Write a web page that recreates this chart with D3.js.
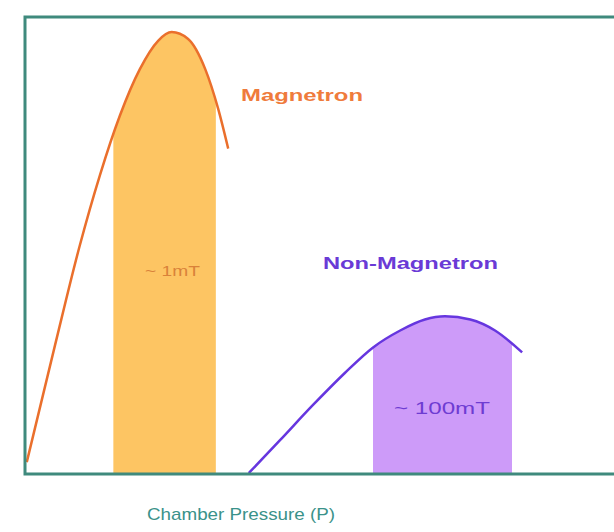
<!DOCTYPE html>
<html>
<head>
<meta charset="utf-8">
<script src="https://cdn.jsdelivr.net/npm/d3@7"></script>
<style>
  body { margin: 0; background: #fff; }
  svg { display: block; font-family: "Liberation Sans", Arial, sans-serif; }
</style>
</head>
<body>
<div id="chart"></div>
<script>
// Curve samples (arbitrary units, x: pressure 0-100, y: rate 0-100)
const magX = [0.3, 5.1, 9.3, 12.7, 16.1, 19.5, 22.6, 24.9, 27.7, 30.6, 32.8, 34.5];
const magY = [2.6, 28.2, 50.0, 65.3, 78.4, 88.6, 94.8, 96.7, 95.2, 88.6, 79.9, 71.2];
const nonX = [38.0, 43.3, 48.9, 54.3, 59.1, 63.7, 67.9, 71.3, 75.6, 79.8, 84.4];
const nonY = [0.2, 7.4, 15.1, 22.1, 27.7, 31.4, 33.8, 34.5, 33.8, 31.4, 26.6];

// Shaded operating windows
const magBand = [15.0, 32.4];
const nonBand = [59.1, 82.7];

const seriesNames = ['Magnetron', 'Non-Magnetron'];
const bandLabels = ['~ 1mT', '~ 100mT'];
const axisTitle = 'Chamber Pressure (P)';

const width = 614, height = 532;
const margin = {top: 17, right: 0, bottom: 58, left: 25};

const svg = d3.select('#chart').append('svg')
    .attr('width', width)
    .attr('height', height);

const x = d3.scaleLinear().domain([0, 100]).range([margin.left, width - margin.right]);
const y = d3.scaleLinear().domain([0, 100]).range([height - margin.bottom, margin.top]);

const series = [
    {name: seriesNames[0], pts: magX.map((v, i) => [v, magY[i]]), band: magBand,
     fill: '#fdc563', stroke: '#ea6f2c', label: bandLabels[0]},
    {name: seriesNames[1], pts: nonX.map((v, i) => [v, nonY[i]]), band: nonBand,
     fill: '#cd9bf9', stroke: '#6636df', label: bandLabels[1]}
];

const line = d3.line()
    .x(d => x(d[0]))
    .y(d => y(d[1]))
    .curve(d3.curveMonotoneX);

const area = d3.area()
    .x(d => x(d[0]))
    .y0(y(0))
    .y1(d => y(d[1]))
    .curve(d3.curveMonotoneX);

const defs = svg.append('defs');

series.forEach((s, i) => {
    // clip the area to the band
    defs.append('clipPath').attr('id', 'band' + i)
        .append('rect')
        .attr('x', x(s.band[0]))
        .attr('y', 0)
        .attr('width', x(s.band[1]) - x(s.band[0]))
        .attr('height', y(0));

    svg.append('path')
        .datum(s.pts)
        .attr('clip-path', `url(#band${i})`)
        .attr('fill', s.fill)
        .attr('d', area);

    svg.append('path')
        .datum(s.pts)
        .attr('fill', 'none')
        .attr('stroke', s.stroke)
        .attr('stroke-width', 2.5)
        .attr('d', line);
});

// Frame (left, top, bottom)
const frameColor = '#3f8a7d';
svg.append('path')
    .attr('d', `M${width},${y(100)}H${x(0)}V${y(0)}H${width}`)
    .attr('fill', 'none')
    .attr('stroke', frameColor)
    .attr('stroke-width', 3);

// Series labels
svg.append('text')
    .attr('x', 241).attr('y', 101)
    .attr('textLength', 122).attr('lengthAdjust', 'spacingAndGlyphs')
    .style('font-size', '17px').style('font-weight', 'bold')
    .attr('fill', '#ef7b3c')
    .text(seriesNames[0]);

svg.append('text')
    .attr('x', 323).attr('y', 269)
    .attr('textLength', 175).attr('lengthAdjust', 'spacingAndGlyphs')
    .style('font-size', '17px').style('font-weight', 'bold')
    .attr('fill', '#6a3ad6')
    .text(seriesNames[1]);

// Band labels
svg.append('text')
    .attr('x', 145).attr('y', 276)
    .attr('textLength', 55).attr('lengthAdjust', 'spacingAndGlyphs')
    .style('font-size', '15px')
    .attr('fill', '#d9823a')
    .text(bandLabels[0]);

svg.append('text')
    .attr('x', 394).attr('y', 414)
    .attr('textLength', 96).attr('lengthAdjust', 'spacingAndGlyphs')
    .style('font-size', '16px')
    .attr('fill', '#6e3cd2')
    .text(bandLabels[1]);

// Axis title
svg.append('text')
    .attr('x', 147).attr('y', 520)
    .attr('textLength', 188).attr('lengthAdjust', 'spacingAndGlyphs')
    .style('font-size', '17px')
    .attr('fill', '#3a928a')
    .text(axisTitle);
</script>
</body>
</html>
